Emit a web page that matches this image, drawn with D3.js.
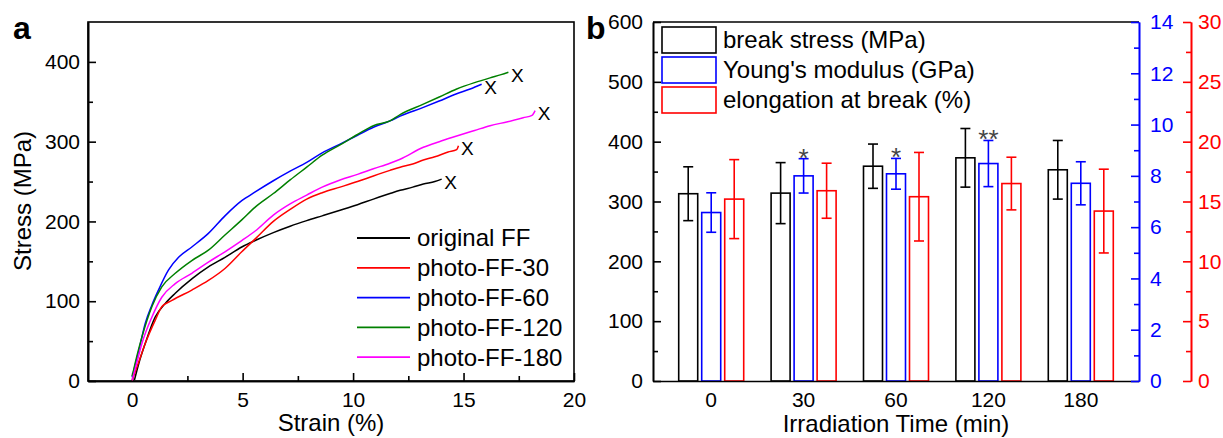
<!DOCTYPE html>
<html>
<head>
<meta charset="utf-8">
<script src="https://cdn.jsdelivr.net/npm/d3@7"></script>
<style>
  body { margin: 0; background: #fff; }
  text { font-family: "Liberation Sans", Arial, sans-serif; }
</style>
</head>
<body>
<script>
// ---- panel a : stress-strain curves, [strain %, stress MPa]
var originalFF = [[0.1,1],[0.3,22],[0.59,47],[1.04,80],[1.49,97],[1.95,110],[2.7,128],[3.45,143],[4.2,155],[4.96,168],[5.64,177],[6.39,186],[7.15,194],[7.9,201],[8.6,207],[9.41,214],[10.2,221],[10.92,228],[11.67,235],[12.13,239],[12.7,243],[13.18,247],[13.7,250],[14.01,253]];
var photoFF30 = [[0,1],[0.3,24],[0.59,47],[1.04,76],[1.34,93],[1.8,101],[2.7,114],[3.45,126],[4.2,141],[4.96,162],[5.64,180],[6.39,200],[7.15,215],[7.9,228],[8.6,236],[9.41,243],[10.2,250],[10.92,257],[11.67,264],[12.13,268],[12.7,272],[13.18,277],[13.7,281],[14.3,287],[14.69,290],[14.77,295]];
var photoFF60 = [[0,5],[0.3,38],[0.59,72],[0.89,95],[1.19,114],[1.64,139],[2.1,155],[2.7,168],[3.45,185],[4.2,207],[4.96,226],[5.57,237],[6.39,251],[7.15,263],[7.9,274],[8.6,286],[9.41,297],[10.2,308],[10.92,318],[11.67,326],[12.13,332],[13.18,343],[13.9,351],[14.69,360],[15.3,366],[15.82,372]];
var photoFF120 = [[0,6],[0.2,30],[0.44,55],[0.89,93],[1.34,118],[1.95,135],[2.7,151],[3.45,164],[4.2,183],[4.96,202],[5.57,218],[6.39,235],[7.15,252],[7.9,268],[8.6,283],[9.41,296],[10.2,309],[10.92,320],[11.67,326],[12.13,334],[13.18,347],[13.9,356],[14.69,366],[15.5,374],[16.2,380],[16.7,384],[17.03,387]];
var photoFF180 = [[0,1],[0.2,22],[0.44,47],[0.89,80],[1.34,105],[1.95,122],[2.7,135],[3.45,149],[4.2,162],[4.96,176],[5.57,188],[6.39,208],[7.15,222],[7.9,233],[8.6,243],[9.41,252],[10.2,259],[10.92,266],[11.67,273],[12.13,278],[13.18,293],[13.9,300],[14.69,307],[15.5,314],[16.2,320],[17.0,325],[17.7,330],[18.1,333],[18.24,339]];

var curveNames = ["original FF", "photo-FF-30", "photo-FF-60", "photo-FF-120", "photo-FF-180"];
var curveColors = ["#000000", "#ff0000", "#0000ff", "#008000", "#ff00ff"];
var curveData = [originalFF, photoFF30, photoFF60, photoFF120, photoFF180];

var strainTicks = [0, 5, 10, 15, 20];
var stressTicks = [0, 100, 200, 300, 400];

// ---- panel b : grouped bars
var times = ["0", "30", "60", "120", "180"];
var breakStress = [313, 314, 359, 373, 353];
var breakStressErr = [45, 51, 37, 49, 49];
var youngModulus = [6.57, 8.0, 8.08, 8.48, 7.71];
var youngModulusErr = [0.77, 0.67, 0.6, 0.9, 0.84];
var elongation = [15.2, 15.9, 15.4, 16.5, 14.2];
var elongationErr = [3.3, 2.3, 3.7, 2.2, 3.5];
var significance = ["", "*", "*", "**", ""];
var barLegend = ["break stress (MPa)", "Young's modulus (GPa)", "elongation at break (%)"];

var width = 1223, height = 438;
var tickFont = 21, titleFont = 24;

var svg = d3.select("body").append("svg")
    .attr("width", width)
    .attr("height", height);

function styleAxis(g, color) {
  g.select(".domain").attr("stroke", color).attr("stroke-width", 1.6);
  g.selectAll(".tick line").attr("stroke", color).attr("stroke-width", 1.6);
  g.selectAll(".tick text").attr("fill", color)
    .style("font-size", tickFont + "px")
    .style("font-family", "'Liberation Sans', Arial, sans-serif");
}

// ================= panel a =================
var xA = d3.scaleLinear().domain([-2, 20]).range([88, 574]);
var yA = d3.scaleLinear().domain([0, 450]).range([381, 22]);

var pa = svg.append("g");

// frame
pa.append("rect")
    .attr("x", xA(-2)).attr("y", yA(450))
    .attr("width", xA(20) - xA(-2)).attr("height", yA(0) - yA(450))
    .attr("fill", "none").attr("stroke", "#000").attr("stroke-width", 1.6);

// minor ticks
pa.append("g").attr("transform", "translate(0," + yA(0) + ")")
    .call(d3.axisBottom(xA).tickValues([2.5, 7.5, 12.5, 17.5]).tickFormat("").tickSize(-5).tickSizeOuter(0))
    .call(styleAxis, "#000");
pa.append("g").attr("transform", "translate(" + xA(-2) + ",0)")
    .call(d3.axisLeft(yA).tickValues([50, 150, 250, 350]).tickFormat("").tickSize(-5).tickSizeOuter(0))
    .call(styleAxis, "#000");

// major ticks
pa.append("g").attr("transform", "translate(0," + yA(0) + ")")
    .call(d3.axisBottom(xA).tickValues(strainTicks).tickSize(-8).tickSizeOuter(0).tickPadding(11))
    .call(styleAxis, "#000");
pa.append("g").attr("transform", "translate(" + xA(-2) + ",0)")
    .call(d3.axisLeft(yA).tickValues(stressTicks).tickSize(-8).tickSizeOuter(0).tickPadding(8))
    .call(styleAxis, "#000");

var line = d3.line()
    .x(function (d) { return xA(d[0]); })
    .y(function (d) { return yA(d[1]); })
    .curve(d3.curveMonotoneX);

curveData.forEach(function (series, i) {
  pa.append("path")
      .datum(series)
      .attr("d", line)
      .attr("fill", "none")
      .attr("stroke", curveColors[i])
      .attr("stroke-width", 1.5);
  var last = series[series.length - 1];
  pa.append("text")
      .attr("x", xA(last[0]) + 9)
      .attr("y", yA(last[1]) + 3)
      .attr("text-anchor", "middle")
      .attr("dy", "0.35em")
      .style("font-size", "19px")
      .text("X");
});

// legend a
curveNames.forEach(function (name, i) {
  var ly = 238 + i * 29.8;
  pa.append("line")
      .attr("x1", 357).attr("x2", 410)
      .attr("y1", ly).attr("y2", ly)
      .attr("stroke", curveColors[i]).attr("stroke-width", 1.8);
  pa.append("text")
      .attr("x", 417).attr("y", ly)
      .attr("dy", "0.35em")
      .style("font-size", titleFont + "px")
      .text(name);
});

pa.append("text")
    .attr("x", 331).attr("y", 431)
    .attr("text-anchor", "middle")
    .style("font-size", titleFont + "px")
    .text("Strain (%)");

pa.append("text")
    .attr("transform", "translate(31,201) rotate(-90)")
    .attr("text-anchor", "middle")
    .style("font-size", titleFont + "px")
    .text("Stress (MPa)");

svg.append("text")
    .attr("x", 13).attr("y", 39)
    .style("font-size", "32px").style("font-weight", "bold")
    .text("a");

// ================= panel b =================
var xB = d3.scaleBand().domain(times).range([653, 1139]).paddingOuter(0.13).paddingInner(0);
var yB = d3.scaleLinear().domain([0, 600]).range([381, 22]);
var yBlue = d3.scaleLinear().domain([0, 14]).range([381, 22]);
var yRed = d3.scaleLinear().domain([0, 30]).range([381, 22]);

var pb = svg.append("g");

var barSets = [
  { vals: breakStress, errs: breakStressErr, scale: yB, color: "#000000", off: -23 },
  { vals: youngModulus, errs: youngModulusErr, scale: yBlue, color: "#0000ff", off: 0 },
  { vals: elongation, errs: elongationErr, scale: yRed, color: "#ff0000", off: 23 }
];
var barW = 19, capW = 10;

barSets.forEach(function (s) {
  var g = pb.append("g");
  times.forEach(function (t, i) {
    var cx = xB(t) + xB.bandwidth() / 2 + s.off;
    var v = s.vals[i], e = s.errs[i];
    g.append("rect")
        .attr("x", cx - barW / 2).attr("y", s.scale(v))
        .attr("width", barW).attr("height", s.scale(0) - s.scale(v))
        .attr("fill", "none").attr("stroke", s.color).attr("stroke-width", 1.6);
    g.append("line")
        .attr("x1", cx).attr("x2", cx)
        .attr("y1", s.scale(v - e)).attr("y2", s.scale(v + e))
        .attr("stroke", s.color).attr("stroke-width", 1.6);
    [v - e, v + e].forEach(function (cv) {
      g.append("line")
          .attr("x1", cx - capW / 2).attr("x2", cx + capW / 2)
          .attr("y1", s.scale(cv)).attr("y2", s.scale(cv))
          .attr("stroke", s.color).attr("stroke-width", 1.6);
    });
  });
});

// significance marks above the modulus bars
times.forEach(function (t, i) {
  if (!significance[i]) return;
  var cx = xB(t) + xB.bandwidth() / 2;
  pb.append("text")
      .attr("x", cx)
      .attr("y", yBlue(youngModulus[i] + youngModulusErr[i]) + 8)
      .attr("text-anchor", "middle")
      .attr("fill", "#444")
      .style("font-size", "26px")
      .text(significance[i]);
});

// top line
pb.append("line")
    .attr("x1", 653).attr("x2", 1139).attr("y1", 22).attr("y2", 22)
    .attr("stroke", "#000").attr("stroke-width", 1.6);

// x axis
pb.append("g").attr("transform", "translate(0," + yB(0) + ")")
    .call(d3.axisBottom(xB).tickSize(0).tickPadding(11))
    .call(styleAxis, "#000");

// left axis
pb.append("g").attr("transform", "translate(653,0)")
    .call(d3.axisLeft(yB).tickValues(d3.range(50, 600, 100)).tickFormat("").tickSize(-5).tickSizeOuter(0))
    .call(styleAxis, "#000");
pb.append("g").attr("transform", "translate(653,0)")
    .call(d3.axisLeft(yB).tickValues(d3.range(0, 601, 100)).tickSize(-8).tickSizeOuter(0).tickPadding(10))
    .call(styleAxis, "#000");

// blue axis
pb.append("g").attr("transform", "translate(1139,0)")
    .call(d3.axisRight(yBlue).tickValues(d3.range(1, 14, 2)).tickFormat("").tickSize(-5).tickSizeOuter(0))
    .call(styleAxis, "#0000ff");
pb.append("g").attr("transform", "translate(1139,0)")
    .call(d3.axisRight(yBlue).tickValues(d3.range(0, 15, 2)).tickSize(-8).tickSizeOuter(0).tickPadding(11))
    .call(styleAxis, "#0000ff");

// red axis
pb.append("g").attr("transform", "translate(1191,0)")
    .call(d3.axisRight(yRed).tickValues(d3.range(2.5, 30, 5)).tickFormat("").tickSize(-5).tickSizeOuter(0))
    .call(styleAxis, "#ff0000");
pb.append("g").attr("transform", "translate(1191,0)")
    .call(d3.axisRight(yRed).tickValues(d3.range(0, 31, 5)).tickSize(-8).tickSizeOuter(0).tickPadding(7))
    .call(styleAxis, "#ff0000");

// legend b
barSets.forEach(function (s, i) {
  var top = 27 + i * 30;
  pb.append("rect")
      .attr("x", 662).attr("y", top)
      .attr("width", 54).attr("height", 26)
      .attr("fill", "none").attr("stroke", s.color).attr("stroke-width", 1.6);
  pb.append("text")
      .attr("x", 723).attr("y", top + 13)
      .attr("dy", "0.35em")
      .style("font-size", titleFont + "px")
      .text(barLegend[i]);
});

pb.append("text")
    .attr("x", 896).attr("y", 432)
    .attr("text-anchor", "middle")
    .style("font-size", titleFont + "px")
    .text("Irradiation Time (min)");

svg.append("text")
    .attr("x", 586).attr("y", 39)
    .style("font-size", "32px").style("font-weight", "bold")
    .text("b");
</script>
</body>
</html>
